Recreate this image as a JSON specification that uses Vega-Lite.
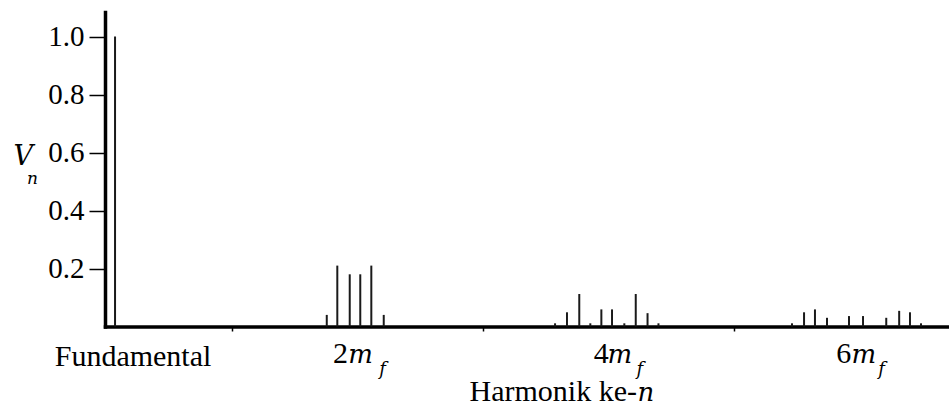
{
  "$schema": "https://vega.github.io/schema/vega-lite/v6.json",
  "width": 844,
  "height": 314.5,
  "autosize": {"type": "none"},
  "padding": {"left": 105, "top": 12, "right": 0, "bottom": 81.5},
  "background": "white",
  "config": {
    "view": {"stroke": null},
    "axis": {
      "grid": false,
      "labelFont": "Liberation Serif",
      "titleFont": "Liberation Serif",
      "labelColor": "black",
      "titleColor": "black",
      "titleFontWeight": "normal",
      "domainColor": "black",
      "tickColor": "black",
      "labelFlush": false,
      "labelOverlap": false,
      "labelBound": false
    }
  },
  "data": {
    "values": [
      {"u": 0.068, "v": 1.0, "g": "f1"},
      {"u": 1.755, "v": 0.040, "g": "h2"},
      {"u": 1.839, "v": 0.210, "g": "h2"},
      {"u": 1.938, "v": 0.180, "g": "h2"},
      {"u": 2.022, "v": 0.180, "g": "h2"},
      {"u": 2.110, "v": 0.210, "g": "h2"},
      {"u": 2.209, "v": 0.040, "g": "h2"},
      {"u": 3.574, "v": 0.011, "g": "h4"},
      {"u": 3.669, "v": 0.049, "g": "h4"},
      {"u": 3.767, "v": 0.112, "g": "h4"},
      {"u": 3.855, "v": 0.011, "g": "h4"},
      {"u": 3.943, "v": 0.059, "g": "h4"},
      {"u": 4.028, "v": 0.059, "g": "h4"},
      {"u": 4.126, "v": 0.011, "g": "h4"},
      {"u": 4.217, "v": 0.112, "g": "h4"},
      {"u": 4.311, "v": 0.046, "g": "h4"},
      {"u": 4.398, "v": 0.011, "g": "h4"},
      {"u": 5.462, "v": 0.011, "g": "h6"},
      {"u": 5.558, "v": 0.049, "g": "h6"},
      {"u": 5.645, "v": 0.059, "g": "h6"},
      {"u": 5.741, "v": 0.030, "g": "h6"},
      {"u": 5.916, "v": 0.036, "g": "h6"},
      {"u": 6.028, "v": 0.036, "g": "h6"},
      {"u": 6.213, "v": 0.030, "g": "h6"},
      {"u": 6.316, "v": 0.054, "g": "h6"},
      {"u": 6.402, "v": 0.049, "g": "h6"},
      {"u": 6.490, "v": 0.011, "g": "h6"}
    ]
  },
  "layer": [
    {
      "transform": [{"filter": "datum.g == 'f1'"}],
      "mark": {"type": "rule", "color": "#1a1a1a", "strokeWidth": 2},
      "encoding": {
        "x": {
          "field": "u", "type": "quantitative",
          "scale": {"domain": [-0.012, 6.713], "nice": false, "zero": false},
          "axis": {
            "orient": "bottom", "values": [1, 3, 5], "labels": false,
            "tickSize": 4.5, "tickWidth": 1.5, "domainWidth": 3.5, "domainCap": "square",
            "title": "Harmonik ke-", "titleFontSize": 30, "titleAlign": "left",
            "titleBaseline": "alphabetic", "titleX": 364, "titleY": 73.5
          }
        },
        "y": {
          "field": "v", "type": "quantitative",
          "scale": {"domain": [0, 1.0845], "nice": false},
          "axis": {
            "orient": "left", "values": [0.2, 0.4, 0.6, 0.8, 1.0], "format": ".1f",
            "labelFontSize": 29, "tickSize": 16, "tickWidth": 1.5, "labelPadding": 5,
            "domainWidth": 3.5, "domainCap": "square",
            "title": "V", "titleFont": "DejaVu Serif", "titleFontStyle": "italic", "titleFontSize": 27, "titleAngle": 0,
            "titleAlign": "left", "titleBaseline": "alphabetic", "titleX": -92, "titleY": 152
          }
        },
        "y2": {"datum": 0}
      }
    },
    {
      "transform": [{"filter": "datum.g == 'h2'"}],
      "mark": {"type": "rule", "color": "#1a1a1a", "strokeWidth": 2},
      "encoding": {
        "x": {
          "field": "u", "type": "quantitative",
          "axis": {
            "orient": "bottom", "values": [0.2072], "labelExpr": "'Fundamental'",
            "ticks": false, "domain": false, "labelFontSize": 30, "labelPadding": 38.5,
            "labelBaseline": "alphabetic", "labelAlign": "center", "title": null
          }
        },
        "y": {
          "field": "v", "type": "quantitative",
          "axis": {
            "orient": "left", "labels": false, "ticks": false, "domain": false,
            "title": "n", "titleFont": "DejaVu Serif", "titleFontStyle": "italic", "titleFontSize": 17, "titleAngle": 0,
            "titleAlign": "left", "titleBaseline": "alphabetic", "titleX": -78.5, "titleY": 171
          }
        },
        "y2": {"datum": 0}
      }
    },
    {
      "transform": [{"filter": "datum.g == 'h4'"}],
      "mark": {"type": "rule", "color": "#1a1a1a", "strokeWidth": 2},
      "encoding": {
        "x": {
          "field": "u", "type": "quantitative",
          "axis": {
            "orient": "bottom",
            "values": [1.8606, 2.02, 3.9386, 4.0853, 5.8709, 6.0303],
            "labelExpr": "datum.value < 1.9 ? '2' : datum.value < 2.5 ? 'm' : datum.value < 4 ? '4' : datum.value < 4.5 ? 'm' : datum.value < 5.95 ? '6' : 'm'",
            "labelFont": {"condition": {"test": "datum.value - floor(datum.value) < 0.5", "value": "DejaVu Serif"}, "value": "Liberation Serif"},
            "labelFontSize": {"condition": {"test": "datum.value - floor(datum.value) < 0.5", "value": 26}, "value": 30},
            "labelFontStyle": {"condition": {"test": "datum.value - floor(datum.value) < 0.5", "value": "italic"}, "value": "normal"},
            "ticks": false, "domain": false, "labelPadding": 35.5,
            "labelBaseline": "alphabetic", "labelAlign": "center",
            "title": "n", "titleFont": "DejaVu Serif", "titleFontStyle": "italic", "titleFontSize": 26, "titleAlign": "left",
            "titleBaseline": "alphabetic", "titleX": 532, "titleY": 73.5
          }
        },
        "y": {"field": "v", "type": "quantitative", "axis": null},
        "y2": {"datum": 0}
      }
    },
    {
      "transform": [{"filter": "datum.g == 'h6'"}],
      "mark": {"type": "rule", "color": "#1a1a1a", "strokeWidth": 2},
      "encoding": {
        "x": {
          "field": "u", "type": "quantitative",
          "axis": {
            "orient": "bottom", "values": [2.1952, 4.245, 6.1713], "labelExpr": "'f'",
            "labelFont": "DejaVu Serif",
            "labelFontStyle": "italic", "ticks": false, "domain": false,
            "labelFontSize": 18, "labelPadding": 48, "labelBaseline": "alphabetic",
            "labelAlign": "center", "title": null
          }
        },
        "y": {"field": "v", "type": "quantitative", "axis": null},
        "y2": {"datum": 0}
      }
    }
  ],
  "resolve": {"axis": {"x": "independent", "y": "independent"}}
}
